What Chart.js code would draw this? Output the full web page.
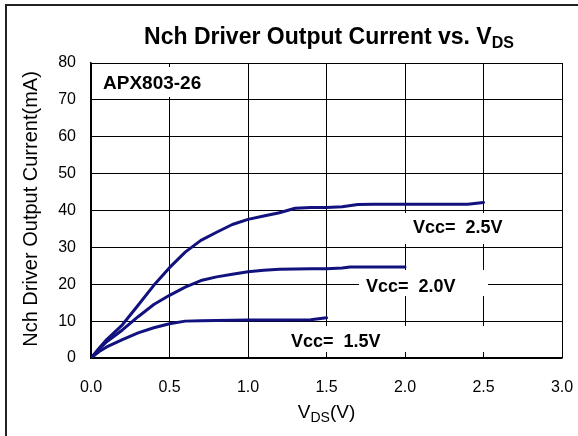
<!DOCTYPE html>
<html>
<head>
<meta charset="utf-8">
<script src="https://cdn.jsdelivr.net/npm/chart.js@4.4.0/dist/chart.umd.min.js"></script>
<style>
html,body{margin:0;padding:0;background:#fff;}
canvas{display:block;}
</style>
</head>
<body>
<canvas id="c" width="578" height="436"></canvas>
<script>
// ---- data ----
const vds25 = [0, 0.05, 0.1, 0.2, 0.3, 0.4, 0.5, 0.6, 0.7, 0.8, 0.9, 1.0, 1.1, 1.2, 1.3, 1.4, 1.5, 1.6, 1.7, 1.8, 2.0, 2.2, 2.4, 2.5];
const cur25 = [0, 2.6, 5.0, 9.0, 14.3, 19.7, 24.5, 28.7, 31.9, 34.1, 36.2, 37.6, 38.5, 39.4, 40.6, 40.8, 40.8, 41.0, 41.6, 41.7, 41.7, 41.7, 41.7, 42.2];

const vds20 = [0, 0.05, 0.1, 0.2, 0.3, 0.4, 0.5, 0.6, 0.7, 0.8, 0.9, 1.0, 1.1, 1.2, 1.4, 1.5, 1.6, 1.65, 1.8, 2.0];
const cur20 = [0, 2.3, 4.4, 7.6, 11.2, 14.5, 17.0, 19.2, 21.0, 22.0, 22.7, 23.4, 23.8, 24.1, 24.2, 24.2, 24.4, 24.7, 24.7, 24.7];

const vds15 = [0, 0.05, 0.1, 0.2, 0.3, 0.4, 0.5, 0.6, 0.7, 0.8, 1.0, 1.2, 1.4, 1.5];
const cur15 = [0, 1.7, 3.0, 5.0, 6.8, 8.2, 9.3, 10.0, 10.1, 10.2, 10.3, 10.3, 10.4, 10.9];

const xMin = 0, xMax = 3, xStep = 0.5;
const yMin = 0, yMax = 80, yStep = 10;

const titleMain = "Nch Driver Output Current vs. V";
const titleSub = "DS";
const yTitle = "Nch Driver Output Current(mA)";
const xTitleMain = "V", xTitleSub = "DS", xTitleEnd = "(V)";
const deviceLabel = "APX803-26";
const seriesLabels = ["Vcc=  2.5V", "Vcc=  2.0V", "Vcc=  1.5V"];

const FONT = '"Liberation Sans", Arial, Helvetica, sans-serif';
const LINE = '#12127e';

function pts(xs, ys){ return xs.map((x,i)=>({x:x, y:ys[i]})); }

const textPlugin = {
  id: 'texts',
  beforeDatasetsDraw(chart){
    const ctx = chart.ctx;
    ctx.save();
    ctx.fillStyle = '#fff';
    ctx.fillRect(95, 67, 133, 30);     // APX803-26
    ctx.fillRect(405, 213, 106, 31);   // 2.5V
    ctx.fillRect(359, 270, 129, 26);   // 2.0V
    ctx.fillRect(285, 326, 205, 26);   // 1.5V
    ctx.restore();
  },
  afterDraw(chart){
    const ctx = chart.ctx;
    ctx.save();
    ctx.fillStyle = '#000';
    ctx.textBaseline = 'alphabetic';
    ctx.textAlign = 'left';

    ctx.font = 'bold 23px ' + FONT;
    const w1 = ctx.measureText(titleMain).width;
    ctx.font = 'bold 16px ' + FONT;
    const w2 = ctx.measureText(titleSub).width;
    let tx = 329 - (w1 + w2) / 2;
    ctx.font = 'bold 23px ' + FONT;
    ctx.fillText(titleMain, tx, 44);
    ctx.font = 'bold 16px ' + FONT;
    ctx.fillText(titleSub, tx + w1, 48);

    ctx.font = '19px ' + FONT;
    const a = ctx.measureText(xTitleMain).width;
    const c = ctx.measureText(xTitleEnd).width;
    ctx.font = '14px ' + FONT;
    const b = ctx.measureText(xTitleSub).width;
    let xx = 326.5 - (a + b + c) / 2;
    ctx.font = '19px ' + FONT;
    ctx.fillText(xTitleMain, xx, 418);
    ctx.font = '14px ' + FONT;
    ctx.fillText(xTitleSub, xx + a, 422);
    ctx.font = '19px ' + FONT;
    ctx.fillText(xTitleEnd, xx + a + b, 418);

    ctx.save();
    ctx.translate(37, 209);
    ctx.rotate(-Math.PI / 2);
    ctx.textAlign = 'center';
    ctx.font = '20px ' + FONT;
    ctx.fillText(yTitle, 0, 0);
    ctx.restore();

    ctx.font = 'bold 19px ' + FONT;
    ctx.fillText(deviceLabel, 103, 89);
    ctx.font = 'bold 18px ' + FONT;
    ctx.fillText(seriesLabels[0], 413, 233);
    ctx.fillText(seriesLabels[1], 366, 292);
    ctx.fillText(seriesLabels[2], 291, 347);

    ctx.strokeStyle = '#222';
    ctx.lineWidth = 2;
    ctx.strokeRect(6, 5, 640, 520);
    ctx.restore();
  }
};

new Chart(document.getElementById('c'), {
  type: 'line',
  data: {
    datasets: [
      { data: pts(vds25, cur25) },
      { data: pts(vds20, cur20) },
      { data: pts(vds15, cur15) }
    ].map(d => Object.assign(d, {
      borderColor: LINE, borderWidth: 3, pointRadius: 0, fill: false,
      tension: 0, borderCapStyle: 'round', borderJoinStyle: 'round'
    }))
  },
  options: {
    responsive: false,
    animation: false,
    devicePixelRatio: 1,
    layout: { padding: { top: 63, right: 16, left: 0, bottom: 0 } },
    plugins: { legend: { display: false }, tooltip: { enabled: false }, title: { display: false } },
    scales: {
      x: {
        type: 'linear', min: xMin, max: xMax,
        afterFit(s){ s.height = 78; s.paddingLeft = 0; s.paddingRight = 0; },
        grid: { color: '#000', lineWidth: 1, drawTicks: false },
        border: { display: true, color: '#000', width: 1.5 },
        ticks: { stepSize: xStep, padding: 20, color: '#000', font: { family: FONT, size: 16 },
                 callback: v => v.toFixed(1), maxRotation: 0 }
      },
      y: {
        type: 'linear', min: yMin, max: yMax,
        afterFit(s){ s.width = 91; s.paddingTop = 0; s.paddingBottom = 0; },
        grid: { color: '#000', lineWidth: 1, drawTicks: false },
        border: { display: true, color: '#000', width: 1.5 },
        ticks: { stepSize: yStep, padding: 15, color: '#000', font: { family: FONT, size: 16 } }
      }
    }
  },
  plugins: [textPlugin]
});
</script>
</body>
</html>
